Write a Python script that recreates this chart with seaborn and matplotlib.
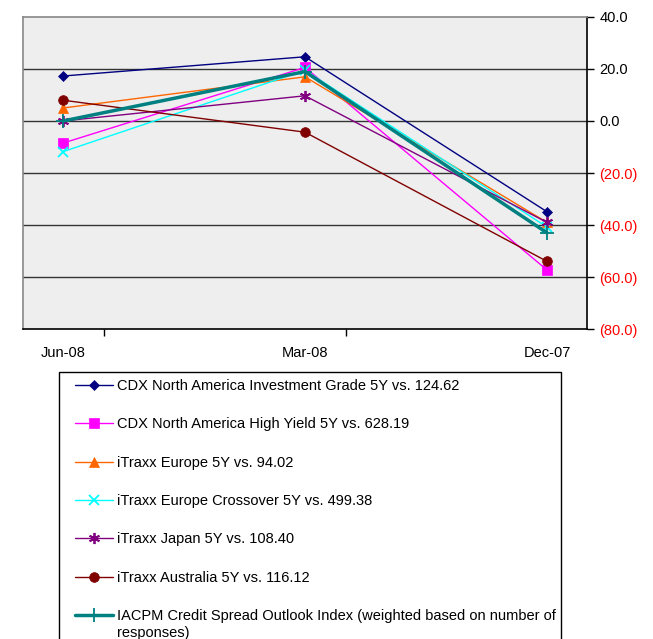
import matplotlib
matplotlib.use("Agg")
import matplotlib.pyplot as plt
import seaborn as sns
import pandas as pd
from matplotlib.ticker import FuncFormatter, FixedLocator
from matplotlib.patches import Rectangle

periods = ["Jun-08", "Mar-08", "Dec-07"]
series_names = [
    "CDX North America Investment Grade 5Y vs. 124.62",
    "CDX North America High Yield 5Y vs. 628.19",
    "iTraxx Europe 5Y vs. 94.02",
    "iTraxx Europe Crossover 5Y vs. 499.38",
    "iTraxx Japan 5Y vs. 108.40",
    "iTraxx Australia 5Y vs. 116.12",
    "IACPM Credit Spread Outlook Index (weighted based on number of responses)",
]
cdx_ig = [17.3, 24.7, -34.9]
cdx_hy = [-8.5, 20.6, -57.3]
itraxx_eu = [5.0, 17.0, -39.0]
itraxx_xo = [-11.8, 19.5, -40.8]
itraxx_jp = [0.0, 9.7, -39.0]
itraxx_au = [8.0, -4.3, -54.0]
iacpm = [0.0, 19.0, -43.0]
yticks = [40, 20, 0, -20, -40, -60, -80]

values = [cdx_ig, cdx_hy, itraxx_eu, itraxx_xo, itraxx_jp, itraxx_au, iacpm]
colors = ["#000080", "#FF00FF", "#FF6600", "#00FFFF", "#800080", "#800000", "#008080"]
markers = ["D", "s", "^", "x", (6, 2, 0), "o", "+"]
msizes = [5.5, 6.5, 7, 7, 8, 7, 10]
lws = [1.0, 1.0, 1.0, 1.0, 1.0, 1.0, 2.5]

sns.set_theme(style="white")
plt.rcParams["font.family"] = ["Liberation Sans", "DejaVu Sans"]
plt.rcParams["text.color"] = "black"
plt.rcParams["xtick.color"] = "black"
plt.rcParams["ytick.color"] = "black"
plt.rcParams["xtick.labelcolor"] = "black"
plt.rcParams["ytick.labelcolor"] = "black"

W, H = 653, 639
fig = plt.figure(figsize=(W / 100, H / 100), dpi=100)
ax = fig.add_axes([23 / W, 1 - 329 / H, (587 - 23) / W, (329 - 17) / H])
ax.set_facecolor("#EEEEEE")

rows = []
for name, vals in zip(series_names, values):
    for i, (p, v) in enumerate(zip(periods, vals)):
        rows.append({"series": name, "pos": i, "period": p, "value": v})
df = pd.DataFrame(rows)

for y in [20, 0, -20, -40, -60]:
    ax.axhline(y, color="#333333", lw=1.0, zorder=1)

for name, c, m, ms, lw in zip(series_names, colors, markers, msizes, lws):
    sub = df[df["series"] == name]
    sns.lineplot(data=sub, x="pos", y="value", color=c, marker=m, markersize=ms,
                 linewidth=lw, markeredgecolor=c, markerfacecolor=c,
                 markeredgewidth=1.3 if m in ("x", "+") or isinstance(m, tuple) else 0.5,
                 ax=ax, label=name, zorder=3, legend=False)

ax.set_xlim(-40 / 242, 2 + 40 / 242)
ax.set_ylim(-80, 40)
ax.set_xlabel("")
ax.set_ylabel("")

ax.yaxis.tick_right()
ax.set_yticks(yticks)
ax.yaxis.set_major_formatter(FuncFormatter(lambda v, p: f"({abs(v):.1f})" if v < 0 else f"{v:.1f}"))
ax.tick_params(axis="y", which="major", right=True, left=False, length=5, width=1,
               color="black", labelsize=10.5, pad=4, direction="out")
for lab, v in zip(ax.get_yticklabels(), yticks):
    lab.set_color("#FF0000" if v < 0 else "black")

ax.set_xticks([0, 1, 2])
ax.set_xticklabels(periods)
ax.tick_params(axis="x", which="major", bottom=False, labelsize=10.5, pad=6.5)
ax.xaxis.set_minor_locator(FixedLocator([41 / 242, 1 + 41 / 242]))
ax.tick_params(axis="x", which="minor", bottom=True, length=5, width=1, color="black", direction="out")

for side in ["left", "top"]:
    ax.spines[side].set_color("#888888")
    ax.spines[side].set_linewidth(1.2)
for side in ["right", "bottom"]:
    ax.spines[side].set_color("black")
    ax.spines[side].set_linewidth(1.2)

# legend box
fig.patches.append(Rectangle((59 / W, -0.05), (561 - 59) / W, 0.05 + 1 - 372 / H,
                             transform=fig.transFigure, fill=False, edgecolor="black",
                             linewidth=1.0, zorder=0))

h, l = ax.get_legend_handles_labels()
l = [x.replace(" responses)", "") for x in l]
leg = fig.legend(h, l, loc="upper left", bbox_to_anchor=(75 / W, 1 - 379 / H),
                 frameon=False, fontsize=10.5, handlelength=2.6,
                 handletextpad=0.27, labelspacing=1.67, borderpad=0,
                 borderaxespad=0)
for t in leg.get_texts():
    t.set_color("black")
fig.canvas.draw()
last = leg.get_texts()[-1]
bb = last.get_window_extent()
fig.text(bb.x0 / W, (bb.y0 - 17 + bb.height / 2) / H, "responses)", fontsize=10.5,
         va="center", ha="left", color="black")

fig.savefig("out.png", dpi=100)
